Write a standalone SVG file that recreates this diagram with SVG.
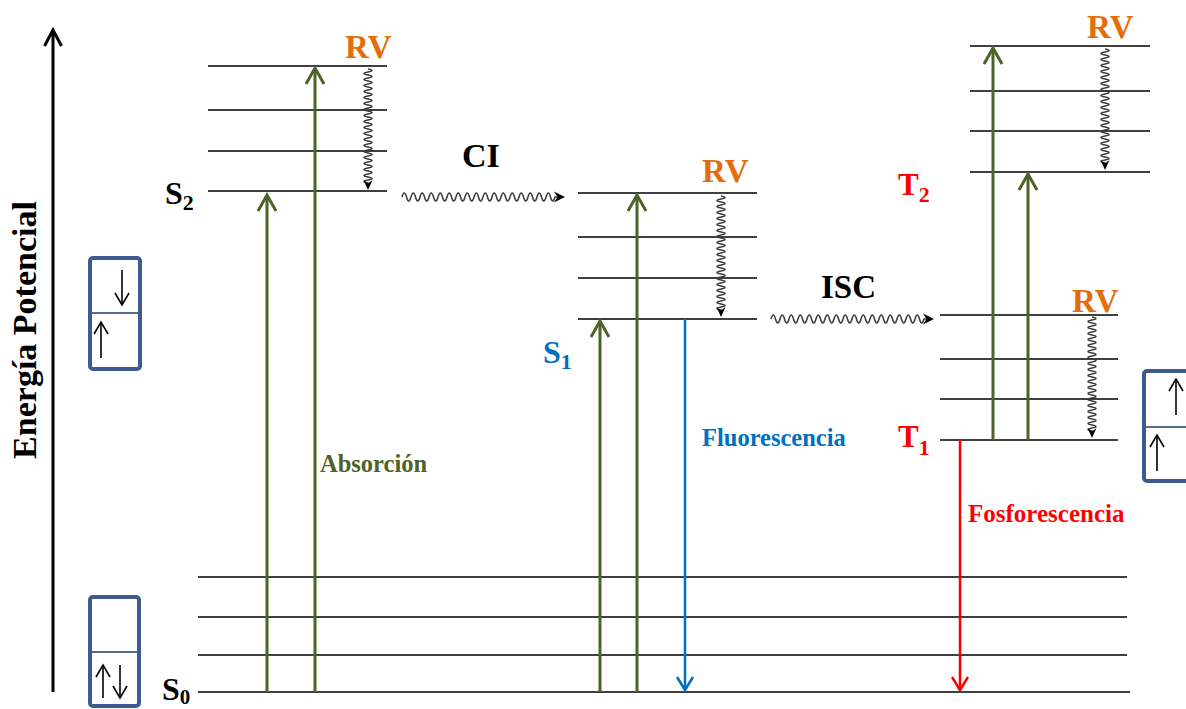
<svg xmlns="http://www.w3.org/2000/svg" xmlns:xlink="http://www.w3.org/1999/xlink" width="1186" height="709" viewBox="0 0 1186 709">
<style>
.lvl{stroke:#000;stroke-width:1.5;fill:none}
.g{stroke:#4f6228;stroke-width:3;fill:none}
.wave{stroke:#3a3a3a;stroke-width:1.5;fill:none}
.box{fill:#fff;stroke:#3d5b8c;stroke-width:4}
.div{stroke:#1f3a6e;stroke-width:1.5}
.spin{stroke:#000;stroke-width:1.6;fill:none}
.lbl{font-family:"Liberation Serif","Times New Roman",serif;font-weight:bold}
.rv{fill:#e46c0a;font-size:33px}
.big{fill:#000;font-size:32px}
</style>
<defs>
<marker id="gh" markerUnits="userSpaceOnUse" markerWidth="40" markerHeight="40" viewBox="-20 -20 40 40" refX="0" refY="0" orient="auto" overflow="visible"><path d="M-16,-9 L0,0 L-16,9" fill="none" stroke="#4f6228" stroke-width="3"/></marker>
<marker id="bh" markerUnits="userSpaceOnUse" markerWidth="40" markerHeight="40" viewBox="-20 -20 40 40" refX="0" refY="0" orient="auto" overflow="visible"><path d="M-13,-8 L0,0 L-13,8" fill="none" stroke="#0070c0" stroke-width="2.5"/></marker>
<marker id="rh" markerUnits="userSpaceOnUse" markerWidth="40" markerHeight="40" viewBox="-20 -20 40 40" refX="0" refY="0" orient="auto" overflow="visible"><path d="M-13,-8 L0,0 L-13,8" fill="none" stroke="#ff0000" stroke-width="2.5"/></marker>
<marker id="kh" markerUnits="userSpaceOnUse" markerWidth="40" markerHeight="40" viewBox="-20 -20 40 40" refX="0" refY="0" orient="auto" overflow="visible"><path d="M-16,-8.5 L0,0 L-16,8.5" fill="none" stroke="#000" stroke-width="3"/></marker>
<marker id="sh" markerUnits="userSpaceOnUse" markerWidth="20" markerHeight="20" viewBox="-10 -10 20 20" refX="0" refY="0" orient="auto" overflow="visible"><path d="M-12,-7 L0,0 L-12,7" fill="none" stroke="#000" stroke-width="1.6"/></marker>
<g id="vwave">
<path class="wave" d="M0,0 q8,1.5 0,3 t0,3 t0,3 t0,3 t0,3 t0,3 t0,3 t0,3 t0,3 t0,3 t0,3 t0,3 t0,3 t0,3 t0,3 t0,3 t0,3 t0,3 t0,3 t0,3 t0,3 t0,3 t0,3 t0,3 t0,3 t0,3 t0,3 t0,3 t0,3 t0,3 t0,3 t0,3 t0,3 t0,3 t0,3 t0,3 t0,3 t0,3 l0,2"/>
<polygon points="0,121 -4.5,111 0,114.5 4.5,111" fill="#000"/>
</g>
<g id="hwave">
<path class="wave" d="M0,0 q2.25,-8 4.5,0 t4.5,0 t4.5,0 t4.5,0 t4.5,0 t4.5,0 t4.5,0 t4.5,0 t4.5,0 t4.5,0 t4.5,0 t4.5,0 t4.5,0 t4.5,0 t4.5,0 t4.5,0 t4.5,0 t4.5,0 t4.5,0 t4.5,0 t4.5,0 t4.5,0 t4.5,0 t4.5,0 t4.5,0 t4.5,0 t4.5,0 t4.5,0 t4.5,0 t4.5,0 t4.5,0 t4.5,0 t4.5,0 t4.5,0 l2,0"/>
<polygon points="163,0 152,-5.5 155.5,0 152,5.5" fill="#000"/>
</g>
</defs>
<rect width="1186" height="709" fill="#fff"/>

<g id="axis">
<line x1="53" y1="692" x2="53" y2="30" stroke="#000" stroke-width="3" marker-end="url(#kh)"/>
<text class="lbl" font-size="34" transform="translate(36,330) rotate(-90)" text-anchor="middle">Energía Potencial</text>
</g>

<g id="S0">
<line class="lvl" x1="198" y1="577" x2="1127" y2="577"/>
<line class="lvl" x1="198" y1="617" x2="1127" y2="617"/>
<line class="lvl" x1="198" y1="655" x2="1127" y2="655"/>
<line class="lvl" x1="198" y1="692" x2="1130" y2="692"/>
<text class="lbl big" x="162" y="700">S<tspan font-size="21" dy="4">0</tspan></text>
</g>

<g id="S2">
<line class="lvl" x1="208" y1="66" x2="387" y2="66"/>
<line class="lvl" x1="208" y1="110" x2="387" y2="110"/>
<line class="lvl" x1="208" y1="151" x2="387" y2="151"/>
<line class="lvl" x1="208" y1="191" x2="387" y2="191"/>
<text class="lbl big" x="165" y="204">S<tspan font-size="22" dy="6">2</tspan></text>
<text class="lbl rv" x="345" y="58">RV</text>
</g>

<g id="S1">
<line class="lvl" x1="578" y1="193" x2="757" y2="193"/>
<line class="lvl" x1="578" y1="237" x2="757" y2="237"/>
<line class="lvl" x1="578" y1="278" x2="757" y2="278"/>
<line class="lvl" x1="578" y1="319" x2="757" y2="319"/>
<text class="lbl" font-size="32" fill="#0070c0" x="543" y="363">S<tspan font-size="22" dy="6">1</tspan></text>
<text class="lbl rv" x="702" y="182">RV</text>
</g>

<g id="T2">
<line class="lvl" x1="970" y1="46" x2="1150" y2="46"/>
<line class="lvl" x1="970" y1="91" x2="1150" y2="91"/>
<line class="lvl" x1="970" y1="131" x2="1150" y2="131"/>
<line class="lvl" x1="970" y1="172" x2="1150" y2="172"/>
<text class="lbl" font-size="31" fill="#ff0000" x="898" y="195">T<tspan font-size="22" dy="7">2</tspan></text>
<text class="lbl rv" x="1087" y="38">RV</text>
</g>

<g id="T1">
<line class="lvl" x1="940" y1="315" x2="1118" y2="315"/>
<line class="lvl" x1="940" y1="359" x2="1118" y2="359"/>
<line class="lvl" x1="940" y1="399" x2="1118" y2="399"/>
<line class="lvl" x1="940" y1="440" x2="1118" y2="440"/>
<text class="lbl" font-size="31" fill="#ff0000" x="898" y="447">T<tspan font-size="22" dy="8">1</tspan></text>
<text class="lbl rv" x="1072" y="312">RV</text>
</g>

<g id="box-s1">
<rect class="box" x="90" y="258" width="50" height="111" rx="3"/>
<line class="div" x1="92" y1="313" x2="138" y2="313"/>
<line class="spin" x1="122" y1="270" x2="122" y2="305" marker-end="url(#sh)"/>
<line class="spin" x1="101" y1="358" x2="101" y2="322" marker-end="url(#sh)"/>
</g>

<g id="box-s0">
<rect class="box" x="90" y="597" width="49" height="109" rx="3"/>
<line class="div" x1="92" y1="652" x2="137" y2="652"/>
<line class="spin" x1="103" y1="698" x2="103" y2="665" marker-end="url(#sh)"/>
<line class="spin" x1="120" y1="665" x2="120" y2="698" marker-end="url(#sh)"/>
</g>

<g id="box-t1">
<rect class="box" x="1144" y="371" width="52" height="110" rx="3"/>
<line class="div" x1="1146" y1="427" x2="1186" y2="427"/>
<line class="spin" x1="1176" y1="415" x2="1176" y2="379" marker-end="url(#sh)"/>
<line class="spin" x1="1157" y1="471" x2="1157" y2="435" marker-end="url(#sh)"/>
</g>

<g id="connectors">
<line class="g" x1="267" y1="692" x2="267" y2="195" marker-end="url(#gh)"/>
<line class="g" x1="315" y1="692" x2="315" y2="68" marker-end="url(#gh)"/>
<line class="g" x1="600" y1="692" x2="600" y2="321" marker-end="url(#gh)"/>
<line class="g" x1="637" y1="692" x2="637" y2="195" marker-end="url(#gh)"/>
<line class="g" x1="993" y1="440" x2="993" y2="48" marker-end="url(#gh)"/>
<line class="g" x1="1028" y1="440" x2="1028" y2="174" marker-end="url(#gh)"/>
<line x1="685" y1="319" x2="685" y2="690" stroke="#0070c0" stroke-width="2.5" marker-end="url(#bh)"/>
<line x1="960" y1="440" x2="960" y2="690" stroke="#ff0000" stroke-width="2.5" marker-end="url(#rh)"/>
<use xlink:href="#vwave" href="#vwave" x="368" y="69"/>
<use xlink:href="#vwave" href="#vwave" x="721" y="196"/>
<use xlink:href="#vwave" href="#vwave" x="1105" y="49"/>
<use xlink:href="#vwave" href="#vwave" x="1092" y="317"/>
<use xlink:href="#hwave" href="#hwave" x="402" y="197"/>
<use xlink:href="#hwave" href="#hwave" x="771" y="319"/>
<text class="lbl" font-size="34" x="462" y="167">CI</text>
<text class="lbl" font-size="33" x="821" y="298">ISC</text>
<text class="lbl" font-size="24.5" fill="#4f6228" x="320" y="472">Absorción</text>
<text class="lbl" font-size="24.5" fill="#0070c0" x="702" y="446">Fluorescencia</text>
<text class="lbl" font-size="25" fill="#ff0000" x="968" y="522">Fosforescencia</text>
</g>
</svg>
